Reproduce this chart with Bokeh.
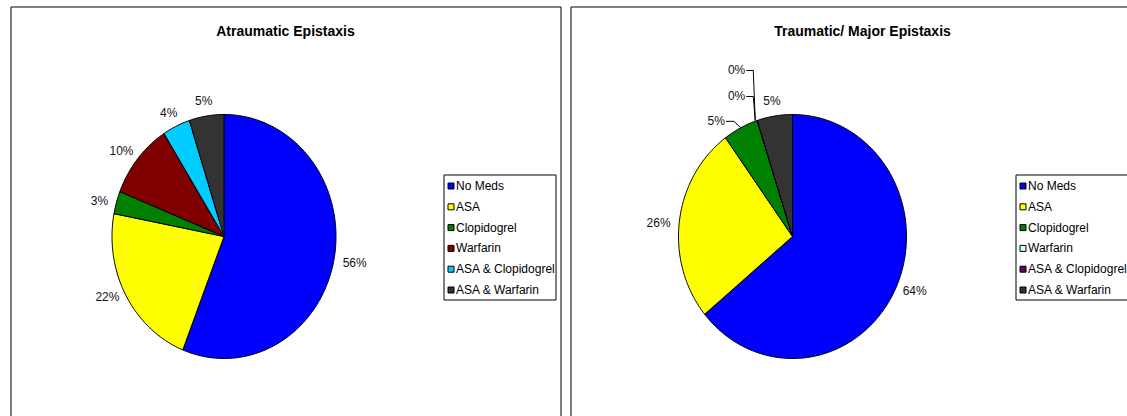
import numpy as np
from bokeh.plotting import figure
from bokeh.layouts import row
from bokeh.models import Range1d
from bokeh.core.properties import value
from bokeh.embed import file_html
from bokeh.resources import INLINE

# ---------------- data ----------------
categories = ["No Meds", "ASA", "Clopidogrel", "Warfarin",
              "ASA & Clopidogrel", "ASA & Warfarin"]
atraumatic_pct = [56, 22, 3, 10, 4, 5]
traumatic_pct = [64, 26, 5, 0, 0, 5]
atraumatic_colors = ["#0000FF", "#FFFF00", "#008000", "#800000", "#00CCFF", "#333333"]
traumatic_colors = ["#0000FF", "#FFFF00", "#008000", "#CCFFFF", "#660066", "#333333"]
panel_titles = ["Atraumatic Epistaxis", "Traumatic/ Major Epistaxis"]

# ---------------- layout ----------------
FONT = "Liberation Sans"
TOP, BOTTOM = 0, 416
LBL_SIZE = 12
LBL_H = 12
GAP = 9


def text_w(s, size=LBL_SIZE):
    return sum(0.889 if c == "%" else 0.556 for c in s) * size


def make_panel(title, vals, colors, x0, x1, frame_l, frame_r, frame_t, title_x,
               cx, cy, rx, ry, leg_l, leg_t, leg_w, leg_h):
    p = figure(width=x1 - x0, height=BOTTOM - TOP,
               x_range=Range1d(x0, x1), y_range=Range1d(BOTTOM, TOP),
               output_backend="svg", toolbar_location=None, min_border=0,
               x_axis_location=None, y_axis_location=None,
               outline_line_color=None)
    p.grid.visible = False
    p.background_fill_color = "white"
    p.border_fill_color = "white"

    # chart frame
    p.line(x=[frame_l, frame_l, frame_r, frame_r],
           y=[BOTTOM + 5, frame_t, frame_t, BOTTOM + 5],
           line_color="black", line_width=1)

    # title
    p.text(x=[title_x], y=[30], text=[title], text_font=value(FONT),
           text_font_size="14px", text_font_style="bold",
           text_align="center", text_baseline="middle", text_color="black")

    # slices (clockwise from 12 o'clock)
    v = np.asarray(vals, dtype=float)
    frac = v / v.sum()
    ends = np.cumsum(frac) * 2 * np.pi
    starts = ends - frac * 2 * np.pi
    xs, ys = [], []
    for a0, a1 in zip(starts, ends):
        npts = max(2, int(np.ceil((a1 - a0) / (2 * np.pi) * 360)) + 1)
        t = np.linspace(a0, a1, npts)
        xs.append([cx] + list(cx + rx * np.sin(t)) + [cx])
        ys.append([cy] + list(cy - ry * np.cos(t)) + [cy])
    p.patches(xs, ys, fill_color=colors, line_color="black", line_width=1)

    # data labels
    mids = (starts + ends) / 2
    labels = [f"{x:.0f}%" for x in v]
    n = len(v)
    lx, ly, lt, la = [], [], [], []
    lead_xs, lead_ys = [], []

    def edge(i):
        return cx + rx * np.sin(mids[i]), cy - ry * np.cos(mids[i])

    # zero-size slices: labels stacked above, with leader lines
    zero_idx = [i for i in range(n) if v[i] == 0]
    region = None
    for k, i in enumerate(reversed(zero_idx)):
        ex, ey = edge(i)
        y = ey - 24 - 26 * k
        xr = ex - 12
        lx.append(xr); ly.append(y); lt.append(labels[i]); la.append("right")
        lead_xs.append([xr + 1, ex - 4, ex - 2])
        lead_ys.append([y, y, ey])
        w = text_w(labels[i])
        b = (xr - w, ex - 2, y - LBL_H / 2, ey)
        if region is None:
            region = b
        else:
            region = (min(region[0], b[0]), max(region[1], b[1]),
                      min(region[2], b[2]), max(region[3], b[3]))

    for i in range(n):
        if v[i] == 0:
            continue
        ex, ey = edge(i)
        s, c = np.sin(mids[i]), np.cos(mids[i])
        w = text_w(labels[i])
        mx = ex + s * (GAP + w / 2)
        my = ey - max(c, 0) * (GAP + LBL_H / 2) + 4 * (1 - abs(c))
        if region is not None:
            l, r, t_, b_ = mx - w / 2, mx + w / 2, my - LBL_H / 2, my + LBL_H / 2
            if l < region[1] and r > region[0] and t_ < region[3] and b_ > region[2]:
                xr = region[0] - 3
                yy = (my + ey) / 2
                lx.append(xr); ly.append(yy); lt.append(labels[i]); la.append("right")
                lead_xs.append([xr + 1, xr + 9, ex])
                lead_ys.append([yy, yy, ey])
                continue
        lx.append(mx); ly.append(my); lt.append(labels[i]); la.append("center")

    if lead_xs:
        p.multi_line(lead_xs, lead_ys, line_color="black", line_width=1)
    p.text(x=lx, y=ly, text=lt, text_align=la, text_baseline="middle",
           text_font=value(FONT), text_font_size=f"{LBL_SIZE}px",
           text_color="#111111")

    # legend
    p.rect(x=[leg_l + leg_w / 2], y=[leg_t + leg_h / 2], width=leg_w,
           height=leg_h, fill_color="white", line_color="black", line_width=1)
    pitch = 20.8
    row_y = [leg_t + 11 + pitch * i for i in range(n)]
    p.rect(x=[leg_l + 7] * n, y=row_y, width=6, height=6,
           fill_color=colors, line_color="black", line_width=1)
    p.text(x=[leg_l + 12] * n, y=row_y, text=categories,
           text_font=value(FONT), text_font_size="12px",
           text_align="left", text_baseline="middle", text_color="black")
    return p


left = make_panel(panel_titles[0], atraumatic_pct, atraumatic_colors,
                  0, 565, 10.5, 560.5, 6.5, 285,
                  223.5, 236, 112, 122, 443.5, 174.5, 112, 125)
right = make_panel(panel_titles[1], traumatic_pct, traumatic_colors,
                   565, 1127, 570.5, 1160, 6.5, 862,
                   792, 236, 114, 122, 1015.5, 174.5, 125, 125)

layout = row(left, right)
open("out.html", "w").write(file_html(layout, INLINE))
